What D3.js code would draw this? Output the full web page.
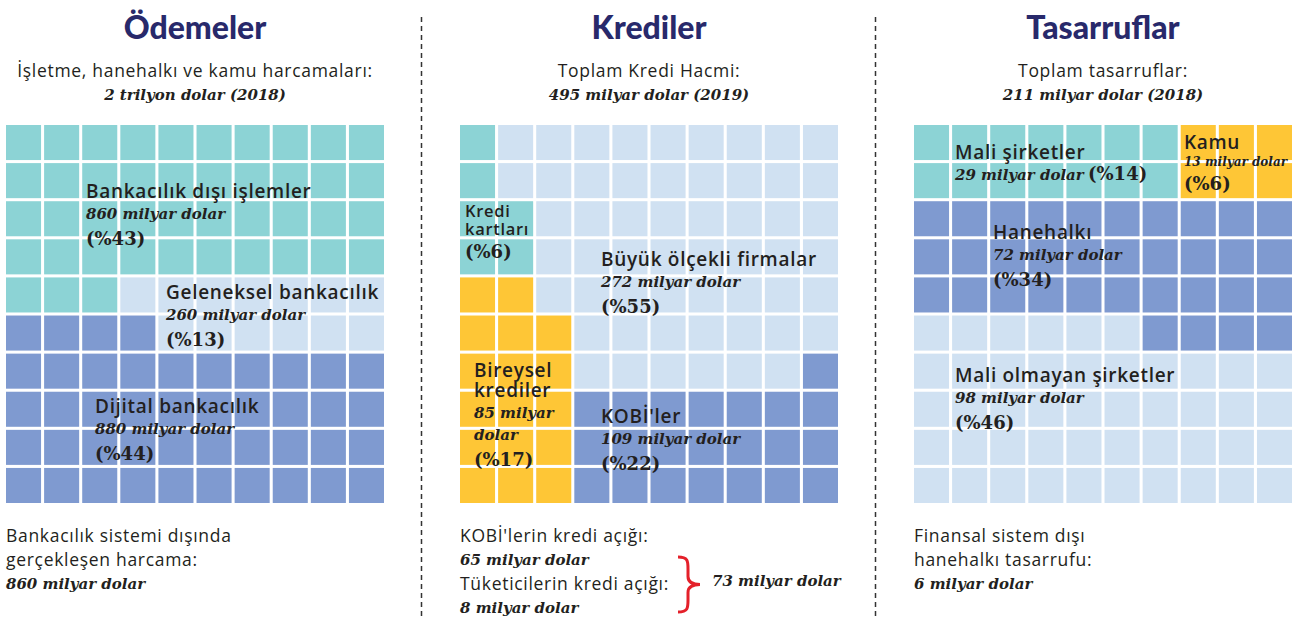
<!DOCTYPE html>
<html>
<head>
<meta charset="utf-8">
<script src="https://cdn.jsdelivr.net/npm/d3@7"></script>
<style>
  body { margin: 0; background: #fff; }
  svg { display: block; }
</style>
</head>
<body>
<figure id="waffle" style="margin:0"></figure>
<script>
// --- data ---
const panelTitles = ["Ödemeler", "Krediler", "Tasarruflar"];
const panelSubtitles = ["İşletme, hanehalkı ve kamu harcamaları:", "Toplam Kredi Hacmi:", "Toplam tasarruflar:"];
const panelTotals = ["2 trilyon dolar (2018)", "495 milyar dolar (2019)", "211 milyar dolar (2018)"];

const odemelerCategories = ["Bankacılık dışı işlemler", "Geleneksel bankacılık", "Dijital bankacılık"];
const odemelerValues = [860, 260, 880];   // milyar dolar
const odemelerShares = [43, 13, 44];      // %

const kredilerCategories = ["Kredi\nkartları", "Büyük ölçekli firmalar", "Bireysel\nkrediler", "KOBİ'ler"];
const kredilerValues = [null, 272, 85, 109];
const kredilerShares = [6, 55, 17, 22];

const tasarruflarCategories = ["Mali şirketler", "Kamu", "Hanehalkı", "Mali olmayan şirketler"];
const tasarruflarValues = [29, 13, 72, 98];
const tasarruflarShares = [14, 6, 34, 46];

// which group each of the 10x10 cells belongs to (t teal, l light, b blue, y yellow)
const odemelerGrid = [
  "tttttttttt", "tttttttttt", "tttttttttt", "tttttttttt", "tttlllllll",
  "bbbbllllll", "bbbbbbbbbb", "bbbbbbbbbb", "bbbbbbbbbb", "bbbbbbbbbb"
];
const kredilerGrid = [
  "tlllllllll", "tlllllllll", "ttllllllll", "ttllllllll", "yyllllllll",
  "yyylllllll", "yyyllllllb", "yyybbbbbbb", "yyybbbbbbb", "yyybbbbbbb"
];
const tasarruflarGrid = [
  "tttttttyyy", "tttttttyyy", "bbbbbbbbbb", "bbbbbbbbbb", "bbbbbbbbbb",
  "llllllbbbb", "llllllllll", "llllllllll", "llllllllll", "llllllllll"
];

const noteLabels = [
  ["Bankacılık sistemi dışında", "gerçekleşen harcama:"],
  ["KOBİ'lerin kredi açığı:", "Tüketicilerin kredi açığı:"],
  ["Finansal sistem dışı", "hanehalkı tasarrufu:"]
];
const noteValues = [[860], [65, 8], [6]];
const creditGapTotal = 73;

// --- layout ---
const width = 1300, height = 619;
const gridLeft = [6, 460, 914];
const gridTop = 125;
const gridSize = 378;

const colour = d3.scaleOrdinal()
  .domain(["t", "l", "b", "y"])
  .range(["#8cd3d5", "#d0e1f2", "#7f9ad0", "#fec636"]);

// label anchors relative to each grid's top-left corner
const labelPos = [
  [{ x: 80, y: 73 }, { x: 160, y: 174 }, { x: 89, y: 288 }],
  [{ x: 5, y: 92, step: 18, shareGap: 23, size: 16.5 }, { x: 141, y: 141 }, { x: 14, y: 252, wrapValue: true }, { x: 141, y: 298 }],
  [{ x: 41, y: 34, step: 24, shareInline: 174 }, { x: 270, y: 24, step: 17, shareGap: 24, small: true }, { x: 79, y: 114 }, { x: 41, y: 257 }]
];

const sans = "'Open Sans', Lato, sans-serif";
const serif = "'DejaVu Serif', Georgia, serif";
const ink = "#231f20";

const panels = [
  { grid: odemelerGrid, names: odemelerCategories, values: odemelerValues, shares: odemelerShares },
  { grid: kredilerGrid, names: kredilerCategories, values: kredilerValues, shares: kredilerShares },
  { grid: tasarruflarGrid, names: tasarruflarCategories, values: tasarruflarValues, shares: tasarruflarShares }
];

const svg = d3.select("figure#waffle")
  .append("svg")
  .attr("width", width)
  .attr("height", height);

const x = d3.scaleBand().domain(d3.range(10)).range([0, gridSize]).paddingInner(0.08);
const y = d3.scaleBand().domain(d3.range(10)).range([0, gridSize]).paddingInner(0.08);

// dashed dividers
svg.selectAll("line.divider")
  .data([421.5, 875.5])
  .enter()
  .append("line")
  .attr("x1", d => d).attr("x2", d => d)
  .attr("y1", 17).attr("y2", height)
  .attr("stroke", "#333")
  .attr("stroke-width", 1.5)
  .attr("stroke-dasharray", "5,4");

function sansText(sel, size, weight) {
  return sel.style("font-family", sans).style("font-size", size + "px")
    .style("font-weight", weight || 400).style("letter-spacing", "0.7px").attr("fill", ink);
}
function serifText(sel, size, italic) {
  return sel.style("font-family", serif).style("font-size", size + "px")
    .style("font-weight", "bold").style("font-style", italic ? "italic" : "normal").attr("fill", ink);
}

panels.forEach((p, i) => {
  const cx = gridLeft[i] + gridSize / 2;

  svg.append("text")
    .attr("x", cx).attr("y", 39)
    .attr("text-anchor", "middle")
    .style("font-family", "Lato, sans-serif").style("font-weight", 900).style("font-size", "32px")
    .attr("fill", "#28296b")
    .text(panelTitles[i]);

  sansText(svg.append("text"), 17.5)
    .attr("x", cx).attr("y", 77)
    .attr("text-anchor", "middle")
    .text(panelSubtitles[i]);

  serifText(svg.append("text"), 15, true)
    .attr("x", cx).attr("y", 100)
    .attr("text-anchor", "middle")
    .text(panelTotals[i]);

  const g = svg.append("g")
    .attr("transform", "translate(" + gridLeft[i] + "," + gridTop + ")");

  // cells
  const cells = [];
  p.grid.forEach((row, r) => row.split("").forEach((k, c) => cells.push({ r, c, k })));
  g.selectAll("rect")
    .data(cells)
    .enter()
    .append("rect")
    .attr("x", d => x(d.c))
    .attr("y", d => y(d.r))
    .attr("width", x.bandwidth())
    .attr("height", y.bandwidth())
    .attr("fill", d => colour(d.k));

  // category labels
  p.names.forEach((name, j) => {
    const pos = labelPos[i][j];
    const step = pos.step || 20;
    const nameLines = name.split("\n");
    const nameText = sansText(g.append("text"), pos.size || 19, 600)
      .attr("x", pos.x).attr("y", pos.y);
    nameText.selectAll("tspan")
      .data(nameLines)
      .enter()
      .append("tspan")
      .attr("x", pos.x)
      .attr("dy", (d, n) => n === 0 ? 0 : step)
      .text(d => d);
    let yy = pos.y + step * (nameLines.length - 1);

    if (p.values[j] != null) {
      const lines = pos.wrapValue ? [p.values[j] + " milyar", "dolar"] : [p.values[j] + " milyar dolar"];
      const valueStep = pos.small ? step : 21;
      const valueText = serifText(g.append("text"), pos.small ? 12 : 15, true)
        .attr("x", pos.x).attr("y", yy + valueStep);
      valueText.selectAll("tspan")
        .data(lines)
        .enter()
        .append("tspan")
        .attr("x", pos.x)
        .attr("dy", (d, n) => n === 0 ? 0 : 22)
        .text(d => d);
      yy += valueStep + 22 * (lines.length - 1);
    }
    const share = "(%" + p.shares[j] + ")";
    if (pos.shareInline) {
      serifText(g.append("text"), 18).attr("x", pos.shareInline).attr("y", yy).text(share);
    } else {
      yy += pos.shareGap || 26;
      serifText(g.append("text"), 18).attr("x", pos.x).attr("y", yy).text(share);
    }
  });

  // notes under the grid
  let ny = 542;
  const isPair = noteValues[i].length > 1;
  const groups = isPair ? noteLabels[i].map(l => [l]) : [noteLabels[i]];
  groups.forEach((texts, n) => {
    texts.forEach(t => {
      sansText(svg.append("text"), 17.5).attr("x", gridLeft[i]).attr("y", ny).text(t);
      ny += 24;
    });
    serifText(svg.append("text"), 15, true)
      .attr("x", gridLeft[i]).attr("y", ny - 1)
      .text(noteValues[i][n] + " milyar dolar");
    ny += 24;
  });
});

// red brace joining the two credit gaps
const bx = 678, by0 = 557, by1 = 612, bm = (by0 + by1) / 2;
svg.append("path")
  .attr("d", "M" + bx + "," + by0
    + " C" + (bx + 10) + "," + by0 + " " + (bx + 10) + "," + (by0 + 4) + " " + (bx + 10) + "," + (by0 + 12)
    + " L" + (bx + 10) + "," + (bm - 8)
    + " C" + (bx + 10) + "," + (bm - 3) + " " + (bx + 14) + "," + bm + " " + (bx + 22) + "," + bm
    + " C" + (bx + 14) + "," + bm + " " + (bx + 10) + "," + (bm + 3) + " " + (bx + 10) + "," + (bm + 8)
    + " L" + (bx + 10) + "," + (by1 - 12)
    + " C" + (bx + 10) + "," + (by1 - 4) + " " + (bx + 10) + "," + by1 + " " + bx + "," + by1)
  .attr("fill", "none")
  .attr("stroke", "#e4202a")
  .attr("stroke-width", 3);

serifText(svg.append("text"), 15, true)
  .attr("x", 712).attr("y", 586)
  .text(creditGapTotal + " milyar dolar");
</script>
</body>
</html>
